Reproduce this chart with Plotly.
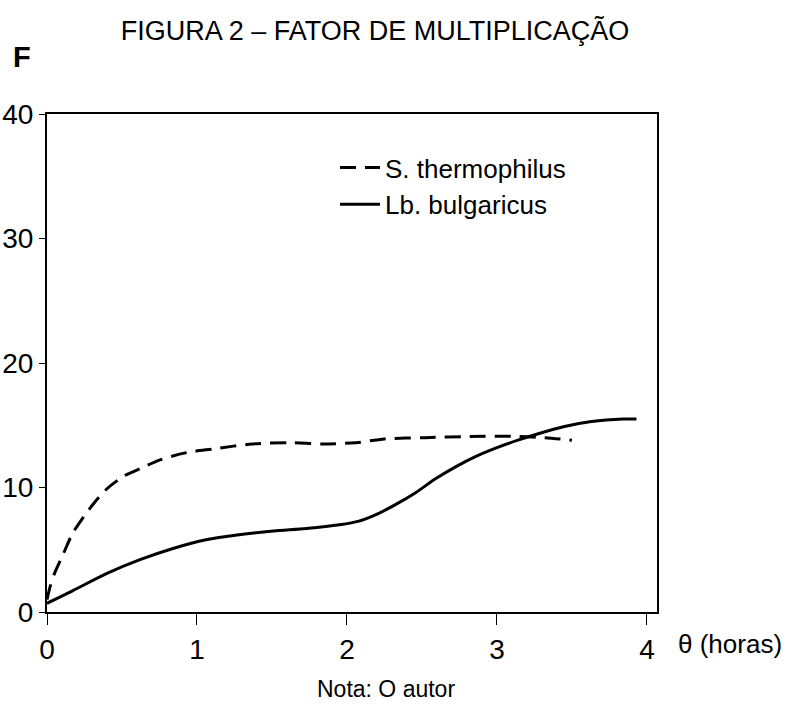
import plotly.graph_objects as go

# Data
theta_s = [0, 0.02, 0.05, 0.11, 0.17, 0.23, 0.31, 0.40, 0.51, 0.62, 0.75, 0.93, 1.11, 1.37, 1.62, 1.84, 2.06, 2.25, 2.52, 2.82, 3.14, 3.32, 3.50]
f_s = [1.0, 2.0, 3.1, 4.7, 6.3, 7.4, 8.7, 9.9, 10.9, 11.5, 12.2, 12.8, 13.1, 13.5, 13.6, 13.5, 13.6, 13.9, 14.0, 14.1, 14.1, 14.0, 13.8]

theta_l = [0, 0.17, 0.40, 0.62, 0.84, 1.06, 1.28, 1.51, 1.73, 1.95, 2.08, 2.19, 2.32, 2.46, 2.59, 2.73, 2.86, 3.00, 3.14, 3.27, 3.45, 3.63, 3.84, 3.93]
f_l = [0.7, 1.7, 3.1, 4.2, 5.1, 5.8, 6.2, 6.5, 6.7, 7.0, 7.3, 7.8, 8.6, 9.6, 10.7, 11.7, 12.5, 13.2, 13.8, 14.3, 14.9, 15.3, 15.5, 15.5]

x_ticks = [0, 1, 2, 3, 4]
y_ticks = [0, 10, 20, 30, 40]

FONT = "Liberation Sans, Arial, sans-serif"
W, H = 795, 706
# plot area in screenshot pixels: left 47, right 657, top 114, bottom 612
L, T = 47, 114
R = W - 657
B = H - 612
PW, PH = W - L - R, H - T - B


def px(xs):
    return (xs - L) / PW


def py(ys):
    return (H - B - ys) / PH


fig = go.Figure()
fig.add_trace(go.Scatter(
    x=theta_s, y=f_s, mode="lines", name="S. thermophilus",
    line=dict(color="black", width=3, dash="16px,9px", shape="spline", smoothing=0.8),
))
fig.add_trace(go.Scatter(
    x=theta_l, y=f_l, mode="lines", name="Lb. bulgaricus",
    line=dict(color="black", width=3, shape="spline", smoothing=0.8),
))

fig.update_layout(
    width=W, height=H,
    margin=dict(l=L, r=R, t=T, b=B, autoexpand=False),
    paper_bgcolor="white", plot_bgcolor="white",
    font=dict(family=FONT, color="black", size=24),
    showlegend=True,
    legend=dict(x=px(335), y=py(144), xanchor="left", yanchor="top",
                bgcolor="rgba(0,0,0,0)", font=dict(size=26, family=FONT),
                tracegroupgap=0, itemwidth=40),
    title=dict(text="FIGURA 2 – FATOR DE MULTIPLICAÇÃO", x=375 / W, xanchor="center",
               y=1 - 31 / H, yanchor="middle", yref="container",
               font=dict(family=FONT, size=27, color="black")),
)

fig.update_xaxes(
    range=[0, 4.067], tickvals=x_ticks, ticktext=[str(v) for v in x_ticks],
    showgrid=False, zeroline=False, showline=True, linecolor="black", linewidth=2,
    mirror=True, ticks="outside", ticklen=11, tickwidth=1, tickcolor="black",
    tickfont=dict(size=28, family=FONT), automargin=False,
)
fig.update_yaxes(
    range=[0, 40], tickvals=y_ticks, ticktext=[str(v) for v in y_ticks],
    showgrid=False, zeroline=False, showline=True, linecolor="black", linewidth=2,
    mirror=True, ticks="outside", ticklen=6, tickwidth=1, tickcolor="black",
    tickfont=dict(size=28, family=FONT), automargin=False,
)

fig.add_annotation(text="<b>F</b>", xref="paper", yref="paper", x=px(11), y=py(57),
                   xanchor="left", yanchor="middle", showarrow=False,
                   font=dict(family=FONT, size=29))
fig.add_annotation(text="θ (horas)", xref="paper", yref="paper", x=px(676), y=py(644),
                   xanchor="left", yanchor="middle", showarrow=False,
                   font=dict(family=FONT, size=26))
fig.add_annotation(text="Nota: O autor", xref="paper", yref="paper", x=px(386), y=py(689),
                   xanchor="center", yanchor="middle", showarrow=False,
                   font=dict(family=FONT, size=23))

fig.write_html("out.html", config={"displayModeBar": False},
               post_script="document.body.style.margin='0';")
